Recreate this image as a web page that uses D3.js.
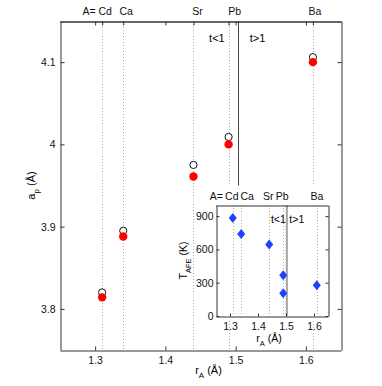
<!DOCTYPE html>
<html><head><meta charset="utf-8">
<script src="https://cdn.jsdelivr.net/npm/d3@7/dist/d3.min.js"></script>
<style>
body{margin:0;background:#fff;}
svg{display:block;font-family:"Liberation Sans",Arial,sans-serif;}
</style></head>
<body><svg id="c" width="382" height="386"></svg>
<script>
// ---- data ----
const elements = ["Cd","Ca","Sr","Pb","Ba"];
const rA = [1.31, 1.34, 1.44, 1.49, 1.61];
const apOpen = [3.82, 3.895, 3.975, 4.009, 4.106];
const apRed  = [3.814, 3.888, 3.961, 4.0, 4.1];
const insetR = [1.31, 1.34, 1.44, 1.49, 1.49, 1.61];
const insetT = [882, 739, 644, 368, 206, 277];
const xTicks = [1.3, 1.4, 1.5, 1.6];
const yTicks = [3.8, 3.9, 4, 4.1];
const insetYTicks = [0, 300, 600, 900];
const tOne = 1.503;

// label nudges (px) for element names
const mainNudge = [3, 3, 4, 6, 2];
const insetNudge = [-1, 6, -1, -1, 0];

const svg = d3.select("#c");
const frame = "#333";

// ---- main axes ----
const M = {l:60, r:341, t:21, b:350};
const x = d3.scaleLinear().domain([1.25,1.65]).range([M.l, M.r]);
const y = d3.scaleLinear().domain([3.75,4.15]).range([M.b, M.t]);

const g = svg.append("g");
g.selectAll("line.el").data(rA).join("line")
  .attr("x1", d=>Math.round(x(d))+0.5).attr("x2", d=>Math.round(x(d))+0.5)
  .attr("y1", M.t).attr("y2", M.b)
  .attr("stroke","#aaa").attr("stroke-dasharray","1,2");
g.append("line").attr("x1", Math.round(x(tOne))+0.5).attr("x2", Math.round(x(tOne))+0.5)
  .attr("y1", M.t).attr("y2", y(3.95)).attr("stroke","#444").attr("stroke-width",1);
g.append("text").attr("x", x(tOne)-13).attr("y", 42).attr("text-anchor","end")
  .attr("font-size",11).text("t<1");
g.append("text").attr("x", x(tOne)+12).attr("y", 42).attr("text-anchor","start")
  .attr("font-size",11).text("t>1");

function styleAxis(sel){
  sel.selectAll("path").attr("stroke", frame);
  sel.selectAll("line").attr("stroke", frame);
  sel.selectAll("text").attr("fill","#111").attr("font-size",10.5).attr("font-family","Liberation Sans, Arial, sans-serif");
}
const fmt = d => String(+d.toFixed(2));
svg.append("g").attr("transform",`translate(0,${M.b+0.5})`)
  .call(d3.axisBottom(x).tickValues(xTicks).tickFormat(fmt).tickSizeInner(-4).tickSizeOuter(0).tickPadding(6))
  .call(styleAxis);
svg.append("g").attr("transform",`translate(${M.l+0.5},0)`)
  .call(d3.axisLeft(y).tickValues(yTicks).tickFormat(fmt).tickSizeInner(-4).tickSizeOuter(0).tickPadding(5))
  .call(styleAxis);
svg.append("g").attr("transform",`translate(0,${M.t+0.5})`)
  .call(d3.axisTop(x).tickValues(xTicks).tickFormat("").tickSizeInner(-4).tickSizeOuter(0))
  .call(styleAxis);
svg.append("g").attr("transform",`translate(0,${M.t+0.5})`)
  .call(d3.axisTop(x).tickValues(rA).tickFormat("").tickSizeInner(-4).tickSizeOuter(0))
  .call(styleAxis);
svg.append("g").attr("transform",`translate(${M.r+0.5},0)`)
  .call(d3.axisRight(y).tickValues(yTicks).tickFormat("").tickSizeInner(-4).tickSizeOuter(0))
  .call(styleAxis);

const topLab = svg.append("g").attr("font-size",10.5).attr("fill","#111");
topLab.selectAll("text").data(elements).join("text")
  .attr("x",(d,i)=>x(rA[i])+mainNudge[i]).attr("y",15).attr("text-anchor","middle").text(d=>d);
topLab.append("text").attr("x", x(rA[0])-6.5).attr("y",15).attr("text-anchor","end").text("A=");

const xl = svg.append("text").attr("x", (M.l+M.r)/2+8).attr("y", 374).attr("text-anchor","middle").attr("font-size",11);
xl.append("tspan").text("r");
xl.append("tspan").attr("dy",4).attr("font-size",8).text("A");
xl.append("tspan").attr("dy",-4).text(" (Å)");
const yl = svg.append("text").attr("transform",`translate(35,${(M.t+M.b)/2}) rotate(-90)`).attr("text-anchor","middle").attr("font-size",11);
yl.append("tspan").text("a");
yl.append("tspan").attr("dy",4).attr("font-size",8).text("p");
yl.append("tspan").attr("dy",-4).text(" (Å)");

g.selectAll("circle.o").data(rA).join("circle")
  .attr("cx",d=>x(d)).attr("cy",(d,i)=>y(apOpen[i])).attr("r",3.6)
  .attr("fill","#fff").attr("stroke","#111").attr("stroke-width",1);
g.selectAll("circle.r").data(rA).join("circle")
  .attr("cx",d=>x(d)).attr("cy",(d,i)=>y(apRed[i])).attr("r",4.2)
  .attr("fill","#ff0000");

// ---- inset ----
const I = {l:216, r:328, t:205, b:316};
svg.append("rect").attr("x",205).attr("y",186).attr("width",129).attr("height",133).attr("fill","#fff");
const xi = d3.scaleLinear().domain([1.25,1.65]).range([I.l, I.r]);
const yi = d3.scaleLinear().domain([0,1000]).range([I.b, I.t]);
const gi = svg.append("g");
gi.selectAll("line.el").data(rA).join("line")
  .attr("x1", d=>Math.round(xi(d))+0.5).attr("x2", d=>Math.round(xi(d))+0.5)
  .attr("y1", I.t).attr("y2", I.b)
  .attr("stroke","#aaa").attr("stroke-dasharray","1,2");
gi.append("line").attr("x1", xi(tOne)).attr("x2", xi(tOne))
  .attr("y1", I.t).attr("y2", I.b).attr("stroke","#aaa").attr("stroke-width",2.2);
gi.append("text").attr("x", xi(tOne)-1).attr("y", 223).attr("text-anchor","end").attr("font-size",10.5).text("t<1");
gi.append("text").attr("x", xi(tOne)+2.5).attr("y", 223).attr("text-anchor","start").attr("font-size",10.5).text("t>1");

svg.append("g").attr("transform",`translate(0,${I.b+0.5})`)
  .call(d3.axisBottom(xi).tickValues(xTicks).tickFormat(fmt).tickSizeInner(-3).tickSizeOuter(0).tickPadding(6))
  .call(styleAxis);
svg.append("g").attr("transform",`translate(${I.l+0.5},0)`)
  .call(d3.axisLeft(yi).tickValues(insetYTicks).tickSizeInner(-3).tickSizeOuter(0).tickPadding(3))
  .call(styleAxis);
svg.append("g").attr("transform",`translate(0,${I.t+0.5})`)
  .call(d3.axisTop(xi).tickValues([]).tickSizeOuter(0))
  .call(styleAxis);
svg.append("g").attr("transform",`translate(${I.r+0.5},0)`)
  .call(d3.axisRight(yi).tickValues(insetYTicks).tickFormat("").tickSizeInner(-3).tickSizeOuter(0))
  .call(styleAxis);

const iLab = svg.append("g").attr("font-size",10.5).attr("fill","#111");
iLab.selectAll("text").data(elements).join("text")
  .attr("x",(d,i)=>xi(rA[i])+insetNudge[i]).attr("y",200).attr("text-anchor","middle").text(d=>d);
iLab.append("text").attr("x", xi(rA[0])-10).attr("y",200).attr("text-anchor","end").text("A=");

const xli = svg.append("text").attr("x", (I.l+I.r)/2-3).attr("y", 342).attr("text-anchor","middle").attr("font-size",10.5);
xli.append("tspan").text("r");
xli.append("tspan").attr("dy",4).attr("font-size",7.5).text("A");
xli.append("tspan").attr("dy",-4).text(" (Å)");
const yli = svg.append("text").attr("transform",`translate(187,${(I.t+I.b)/2}) rotate(-90)`).attr("text-anchor","middle").attr("font-size",10.5);
yli.append("tspan").text("T");
yli.append("tspan").attr("dy",4).attr("font-size",7.5).text("AFE");
yli.append("tspan").attr("dy",-4).text(" (K)");

const diamond = "M0,-5L4,0L0,5L-4,0Z";
gi.selectAll("path.dm").data(insetR).join("path")
  .attr("d", diamond)
  .attr("transform",(d,i)=>`translate(${xi(d)},${yi(insetT[i])})`)
  .attr("fill","#1e40ff");
</script></body></html>
